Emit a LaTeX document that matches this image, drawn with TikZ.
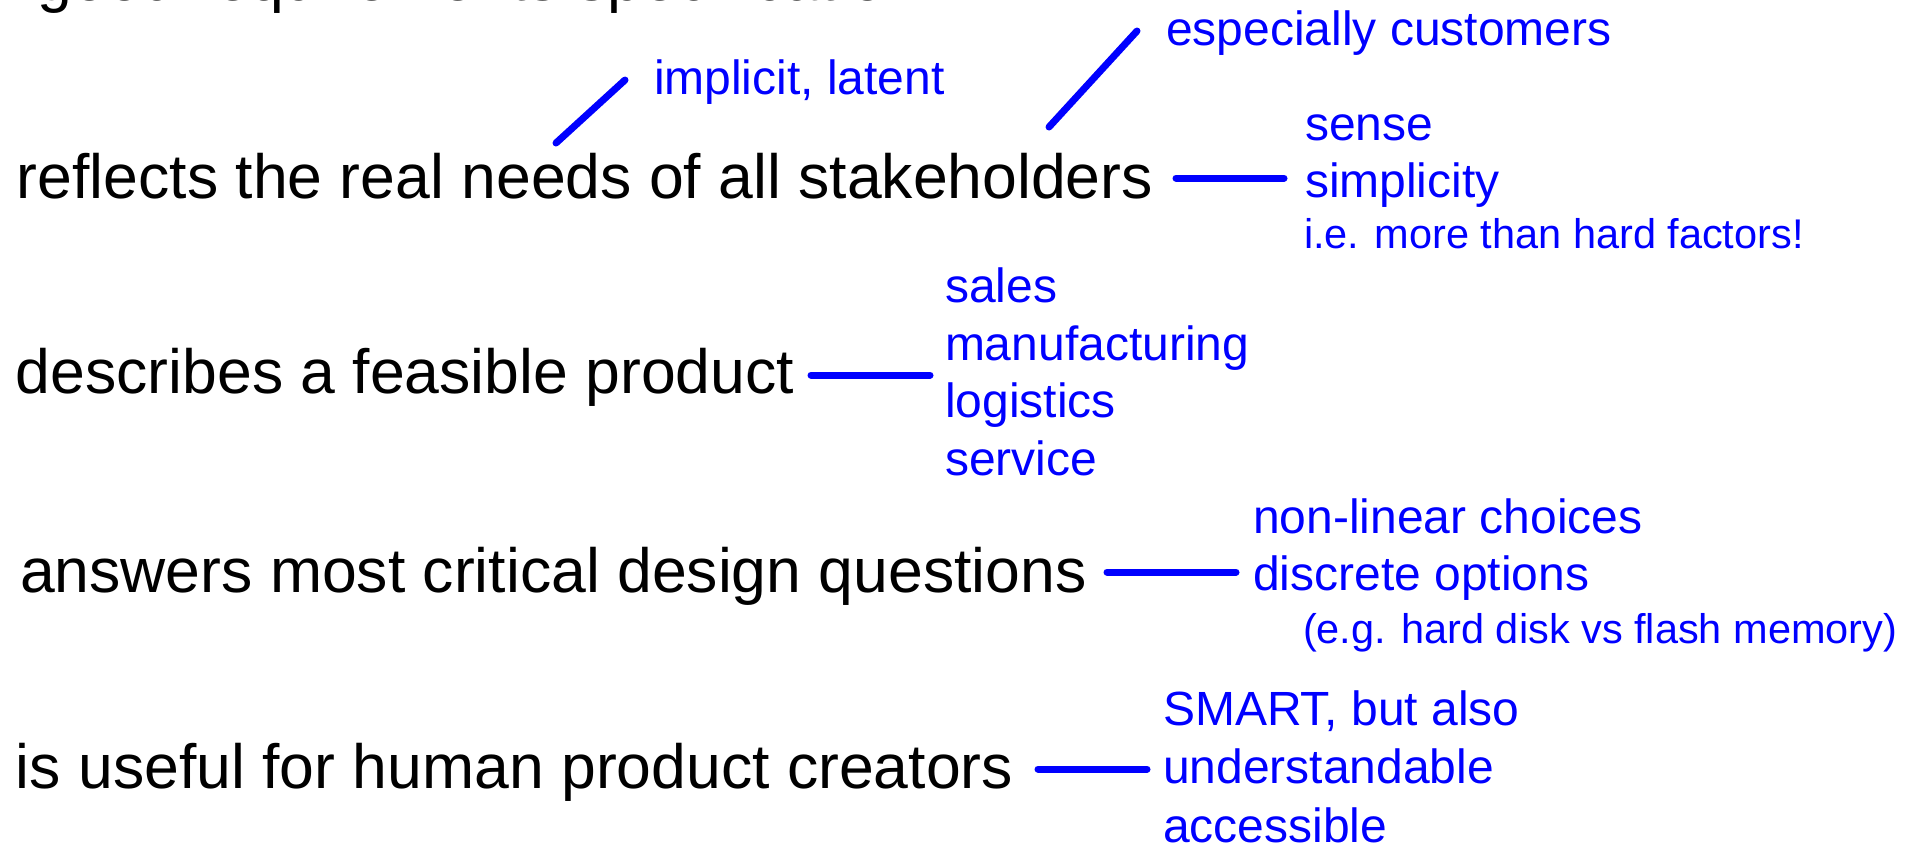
\documentclass[tikz,border=0pt]{standalone}
\usepackage{fontspec}
\setmainfont{Liberation Sans}
\definecolor{pureblue}{RGB}{0,0,255}
\tikzset{
  main/.style={anchor=base west,inner sep=0pt,outer sep=0pt,text=black,font=\fontsize{31.25pt}{36pt}\selectfont},
  note/.style={anchor=base west,inner sep=0pt,outer sep=0pt,text=pureblue,font=\fontsize{24pt}{28pt}\selectfont},
  small/.style={anchor=base west,inner sep=0pt,outer sep=0pt,text=pureblue,font=\fontsize{20.75pt}{24pt}\selectfont},
  link/.style={draw=pureblue,line width=3.5pt,line cap=round}
}
\begin{document}
\begin{tikzpicture}[x=0.5pt,y=-0.5pt]
\useasboundingbox (0,0) rectangle (1912,843);
\clip (0,0) rectangle (1912,843);
% main texts
\node[main] (title) at (38,0.3) {good requirements specification};
\node[main] (m1) at (17,198) {reflects the real needs of all stakeholders};
\node[main] (m2) at (16,393) {describes a feasible product};
\node[main] (m3) at (20,592) {answers most critical design questions};
\node[main] (m4) at (16,788) {is useful for human product creators};
% notes
\node[note] (n1) at (1166,45) {especially customers};
\node[note] (n2) at (654,94) {implicit, latent};
\node[note] (n3a) at (1305,140) {sense};
\node[note] (n3b) at (1305,197) {simplicity};
\node[small] (n3c) at (1304,248) {i.e. more than hard factors!};
\node[note] (n4a) at (945,302) {sales};
\node[note] (n4b) at (945,360) {manufacturing};
\node[note] (n4c) at (945,417) {logistics};
\node[note] (n4d) at (945,475) {service};
\node[note] (n5a) at (1253,533) {non-linear choices};
\node[note] (n5b) at (1253,590) {discrete options};
\node[small] (n5c) at (1303,643) {(e.g. hard disk vs flash memory)};
\node[note] (n6a) at (1163,725) {SMART, but also};
\node[note] (n6b) at (1163,783) {understandable};
\node[note] (n6c) at (1163,842) {accessible};
% connector end points
\coordinate (c1a) at (1049,127); \coordinate (c1b) at (1137,31);
\coordinate (c2a) at (556,143); \coordinate (c2b) at (625,80);
\coordinate (c3a) at (1176,178); \coordinate (c3b) at (1284,178);
\coordinate (c4a) at (811,375); \coordinate (c4b) at (930,375);
\coordinate (c5a) at (1107,572); \coordinate (c5b) at (1236,572);
\coordinate (c6a) at (1038,769); \coordinate (c6b) at (1147,769);
\draw[link] (c1a) -- (c1b);
\draw[link] (c2a) -- (c2b);
\draw[link] (c3a) -- (c3b);
\draw[link] (c4a) -- (c4b);
\draw[link] (c5a) -- (c5b);
\draw[link] (c6a) -- (c6b);
\end{tikzpicture}
\end{document}
